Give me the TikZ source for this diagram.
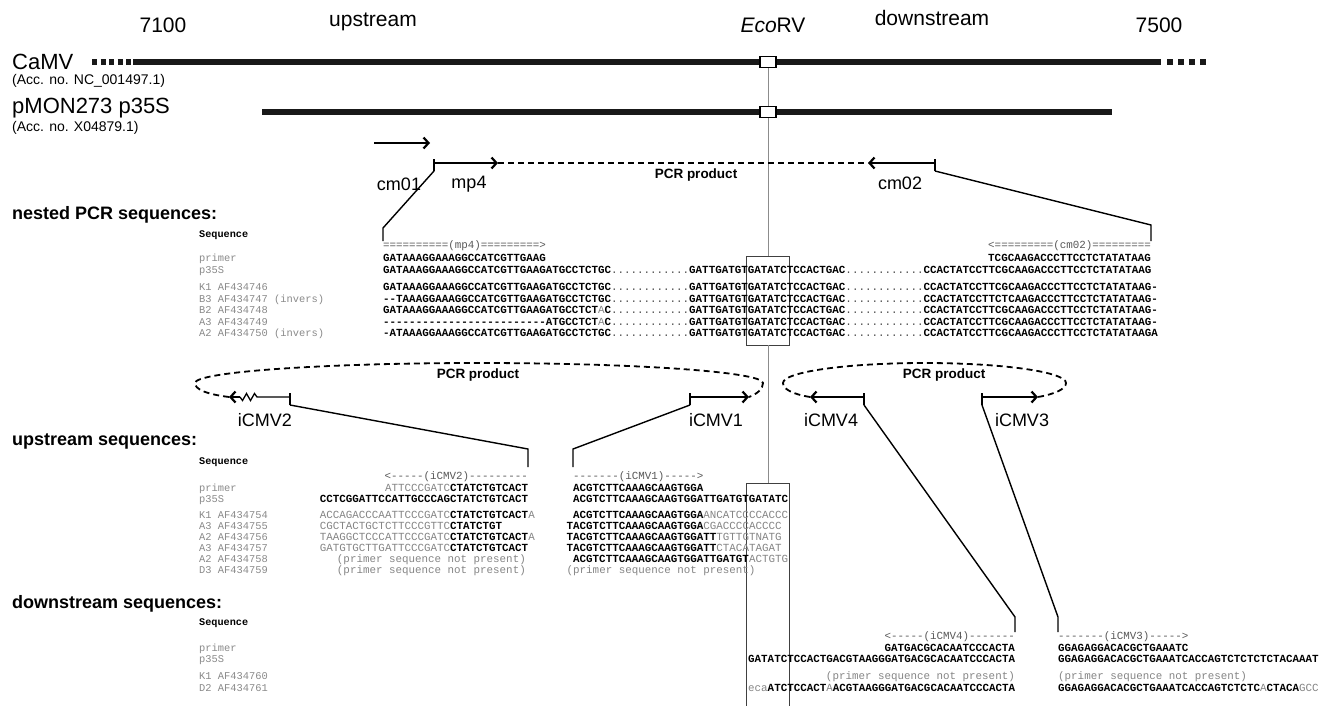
\documentclass[tikz,border=0pt]{standalone}
\usepackage{fontspec}
\setmainfont{Liberation Sans}
\setmonofont{Liberation Mono}
\usetikzlibrary{arrows.meta}
\definecolor{sqgrey}{HTML}{858585}
\definecolor{labgrey}{HTML}{8A8A8A}
\definecolor{vgrey}{HTML}{8C8C8C}
\newcommand\sqg[1]{{\color{sqgrey}\mdseries #1}}
\newcommand\sqd[1]{{\color{black!70}\mdseries #1}}
\begin{document}
\begin{tikzpicture}[x=1pt,y=-1pt,
  dna/.style={line width=6pt, color=black!90},
  ecobox/.style={draw=black, fill=white, line width=1.1pt, minimum width=16pt, minimum height=11pt, inner sep=0pt},
  vline/.style={draw=vgrey, line width=1pt},
  seqbox/.style={draw=black!75, line width=0.8pt, minimum width=43pt, inner sep=0pt},
  shaft/.style={line width=1.3pt},
  arr/.style={line width=1.3pt, -{Straight Barb[length=5pt,width=11pt,line width=2.2pt]}},
  tickln/.style={line width=1.3pt},
  conn/.style={line width=1.4pt},
  pcrdash/.style={line width=1.8pt, dash pattern=on 6pt off 4pt},
  toplab/.style={font=\fontsize{21}{25}\selectfont, inner sep=0pt},
  namelab/.style={font=\fontsize{22}{26}\selectfont, inner sep=0pt, anchor=west},
  acclab/.style={font=\fontsize{14}{16}\selectfont, inner sep=0pt, anchor=west},
  primlab/.style={font=\fontsize{18}{21}\selectfont, inner sep=0pt},
  pcrlab/.style={font=\fontsize{13.5}{16}\selectfont\bfseries, inner sep=0pt},
  seclab/.style={font=\fontsize{18}{21}\selectfont\bfseries, inner sep=0pt, anchor=west},
  rowlab/.style={font=\fontsize{10.4}{12}\selectfont\ttfamily, text=labgrey, inner sep=0pt, anchor=mid west},
  seqhead/.style={font=\fontsize{10.2}{12}\selectfont\ttfamily\bfseries, inner sep=0pt, anchor=mid west},
  sq/.style={font=\fontsize{10.85}{13}\selectfont\ttfamily\bfseries, inner sep=0pt},
  hdr/.style={font=\fontsize{10.85}{13}\selectfont\ttfamily, text=black!65, inner sep=0pt}
]
\fill[white] (0,0) rectangle (1332,705);
\useasboundingbox (0,0) rectangle (1332,705);

% ---------- top map ----------
\node[toplab] (n7100) at (163,25) {7100};
\node[toplab] (nup) at (373,22) {upstream};
\node[toplab] (neco) at (773,25) {\textit{Eco}RV};
\node[toplab] (ndown) at (932,18) {downstream};
\node[toplab] (n7500) at (1159,25) {7500};

\node[namelab] (camv) at (12,62) {CaMV};
\node[acclab] (camvacc) at (12,81) {(Acc. no. NC\_001497.1)};
\node[namelab] (pmon) at (12,108) {pMON273 p35S};
\node[acclab] (pmonacc) at (12,128) {(Acc. no. X04879.1)};

\draw[dna, dash pattern=on 5pt off 3.5pt] (92,62) -- (131,62);
\draw[dna] (133,62) -- (1161,62);
\draw[dna, dash pattern=on 6pt off 5pt] (1167,62) -- (1206,62);
\draw[dna] (262,112) -- (1112,112);

\node[ecobox] (sq1) at (768,62) {};
\node[ecobox] (sq2) at (768,112) {};

% boxes around EcoRV site
\node[seqbox, minimum height=89pt] (nbox) at (768,300.5) {};
\draw[black!75, line width=0.8pt] (746.5,712) -- (746.5,483) -- (789.5,483) -- (789.5,712);
\coordinate (ubox) at (768,483);
\draw[vline] (sq1) -- (sq2);
\draw[vline] (sq2) -- (nbox);
\draw[vline] (nbox) -- (ubox);

% ---------- outer / nested primers ----------
\coordinate (cm01s) at (374,143);
\coordinate (cm01e) at (430,143);
\draw[arr] (cm01s) -- (cm01e);
\coordinate (mp4t) at (434,163);
\coordinate (mp4e) at (498,163);
\coordinate (cm02t) at (935,163);
\coordinate (cm02e) at (868,163);
\draw[arr] (mp4t) -- (mp4e);
\draw[arr] (cm02t) -- (cm02e);
\draw[pcrdash] (mp4e) -- (cm02e);
\coordinate (mp4a) at (434,159);
\coordinate (mp4b) at (434,171);
\coordinate (cm02a) at (935,159);
\coordinate (cm02b) at (935,171);
\draw[tickln] (mp4a) -- (mp4b);
\draw[tickln] (cm02a) -- (cm02b);
\coordinate (mp4k) at (383,228);
\coordinate (mp4c) at (383,241);
\coordinate (cm02k) at (1151,225);
\coordinate (cm02c) at (1151,241);
\draw[conn] (mp4b) -- (mp4k) -- (mp4c);
\draw[conn] (cm02b) -- (cm02k) -- (cm02c);

\node[primlab] (lcm01) at (399,184) {cm01};
\node[primlab] (lmp4) at (469,184) {mp4};
\node[pcrlab] (lpcr1) at (696,175) {PCR product};
\node[primlab] (lcm02) at (900,183) {cm02};

% ---------- nested PCR block ----------
\node[seclab] (secn) at (12,215) {nested PCR sequences:};
\node[seqhead] (sqh1) at (199,235) {Sequence};
\node[hdr, anchor=mid west] (hmp4) at (383,246) {==========(mp4)=========>};
\node[hdr, anchor=mid east] (hcm02) at (1151.2,246) {<=========(cm02)=========};

\node[rowlab] (l1a) at (199,259) {primer};
\node[rowlab] (l1b) at (199,271) {p35S};
\node[rowlab] (l1c) at (199,288) {K1 AF434746};
\node[rowlab] (l1d) at (199,299.5) {B3 AF434747 (invers)};
\node[rowlab] (l1e) at (199,311) {B2 AF434748};
\node[rowlab] (l1f) at (199,322.5) {A3 AF434749};
\node[rowlab] (l1g) at (199,334) {A2 AF434750 (invers)};

\node[sq, anchor=mid west] (s1a) at (383,259) {GATAAAGGAAAGGCCATCGTTGAAG};
\node[sq, anchor=mid east] (s1a2) at (1151.2,259) {TCGCAAGACCCTTCCTCTATATAAG};
\node[sq, anchor=mid west] (s1b) at (383,271) {GATAAAGGAAAGGCCATCGTTGAAGATGCCTCTGC\sqd{............}GATTGATGTGATATCTCCACTGAC\sqd{............}CCACTATCCTTCGCAAGACCCTTCCTCTATATAAG};
\node[sq, anchor=mid west] (s1c) at (383,288) {GATAAAGGAAAGGCCATCGTTGAAGATGCCTCTGC\sqd{............}GATTGATGTGATATCTCCACTGAC\sqd{............}CCACTATCCTTCGCAAGACCCTTCCTCTATATAAG-};
\node[sq, anchor=mid west] (s1d) at (383,299.5) {--TAAAGGAAAGGCCATCGTTGAAGATGCCTCTGC\sqd{............}GATTGATGTGATATCTCCACTGAC\sqd{............}CCACTATCCTTCTCAAGACCCTTCCTCTATATAAG-};
\node[sq, anchor=mid west] (s1e) at (383,311) {GATAAAGGAAAGGCCATCGTTGAAGATGCCTCT\sqg{A}C\sqd{............}GATTGATGTGATATCTCCACTGAC\sqd{............}CCACTATCCTTCGCAAGACCCTTCCTCTATATAAG-};
\node[sq, anchor=mid west] (s1f) at (383,322.5) {-------------------------ATGCCTCT\sqg{A}C\sqd{............}GATTGATGTGATATCTCCACTGAC\sqd{............}CCACTATCCTTCGCAAGACCCTTCCTCTATATAAG-};
\node[sq, anchor=mid west] (s1g) at (383,334) {-ATAAAGGAAAGGCCATCGTTGAAGATGCCTCTGC\sqd{............}GATTGATGTGATATCTCCACTGAC\sqd{............}CCACTATCCTTCGCAAGACCCTTCCTCTATATAAGA};

% ---------- inner PCR products ----------
\draw[pcrdash] (229,397) .. controls (205,394) and (195,389) .. (195,383)
  .. controls (195,372) and (322,363) .. (479,363)
  .. controls (636,363) and (763,372) .. (763,383)
  .. controls (763,389) and (757,394) .. (749,397);
\draw[pcrdash] (810,397) .. controls (792,394) and (783,389) .. (783,383)
  .. controls (783,372) and (846,363) .. (924.5,363)
  .. controls (1003,363) and (1066,372) .. (1066,383)
  .. controls (1066,389) and (1055,394) .. (1038,397);
\node[pcrlab] (lpcr2) at (478,375) {PCR product};
\node[pcrlab] (lpcr3) at (944,375) {PCR product};

% iCMV2 (with zigzag)
\coordinate (i2t) at (290,397);
\coordinate (i2z) at (240,397);
\coordinate (i2e) at (229,397);
\draw[shaft] (i2t) -- (257,397) -- (254.5,393.5) -- (250.5,400.5) -- (246.5,393.5) -- (242.5,400.5) -- (i2z);
\draw[arr] (i2z) -- (i2e);
% iCMV1
\coordinate (i1t) at (690,397);
\coordinate (i1e) at (749,397);
\draw[arr] (i1t) -- (i1e);
% iCMV4
\coordinate (i4t) at (864,397);
\coordinate (i4e) at (810,397);
\draw[arr] (i4t) -- (i4e);
% iCMV3
\coordinate (i3t) at (982,397);
\coordinate (i3e) at (1038,397);
\draw[arr] (i3t) -- (i3e);

\foreach \n/\x in {i2/290, i1/690, i4/864, i3/982}{
  \coordinate (\n a) at (\x,393);
  \coordinate (\n b) at (\x,405);
  \draw[tickln] (\n a) -- (\n b);
}
\node[primlab] (li2) at (265,420) {iCMV2};
\node[primlab] (li1) at (716,420) {iCMV1};
\node[primlab] (li4) at (831,420) {iCMV4};
\node[primlab] (li3) at (1022,420) {iCMV3};

\coordinate (i2k) at (528,449);  \coordinate (i2c) at (528,467);
\coordinate (i1k) at (573,449);  \coordinate (i1c) at (573,467);
\coordinate (i4k) at (1015,617); \coordinate (i4c) at (1015,632);
\coordinate (i3k) at (1058,617); \coordinate (i3c) at (1058,632);
\draw[conn] (i2b) -- (i2k) -- (i2c);
\draw[conn] (i1b) -- (i1k) -- (i1c);
\draw[conn] (i4b) -- (i4k) -- (i4c);
\draw[conn] (i3b) -- (i3k) -- (i3c);

% ---------- upstream block ----------
\node[seclab] (secu) at (12,441) {upstream sequences:};
\node[seqhead] (sqh2) at (199,462) {Sequence};
\node[hdr, anchor=mid east] (hi2) at (528,477) {<-----(iCMV2)---------};
\node[hdr, anchor=mid west] (hi1) at (573,477) {-------(iCMV1)----->};

\node[rowlab] (l2a) at (199,489) {primer};
\node[rowlab] (l2b) at (199,499.5) {p35S};
\node[rowlab] (l2c) at (199,516) {K1 AF434754};
\node[rowlab] (l2d) at (199,527) {A3 AF434755};
\node[rowlab] (l2e) at (199,538) {A2 AF434756};
\node[rowlab] (l2f) at (199,549) {A3 AF434757};
\node[rowlab] (l2g) at (199,560) {A2 AF434758};
\node[rowlab] (l2h) at (199,571) {D3 AF434759};

\node[sq, anchor=mid west] (u2a) at (384.8,489) {\sqg{ATTCCCGATC}CTATCTGTCACT};
\node[sq, anchor=mid west] (u2b) at (319.7,499.5) {CCTCGGATTCCATTGCCCAGCTATCTGTCACT};
\node[sq, anchor=mid west] (u2c) at (319.7,516) {\sqg{ACCAGACCCAATTCCCGATC}CTATCTGTCACT\sqg{A}};
\node[sq, anchor=mid west] (u2d) at (319.7,527) {\sqg{CGCTACTGCTCTTCCCGTTC}CTATCTGT};
\node[sq, anchor=mid west] (u2e) at (319.7,538) {\sqg{TAAGGCTCCCATTCCCGATC}CTATCTGTCACT\sqg{A}};
\node[sq, anchor=mid west] (u2f) at (319.7,549) {\sqg{GATGTGCTTGATTCCCGATC}CTATCTGTCACT};
\node[sq, anchor=mid east] (u2g) at (526,560) {\sqg{(primer sequence not present)}};
\node[sq, anchor=mid east] (u2h) at (526,571) {\sqg{(primer sequence not present)}};

\node[sq, anchor=mid west] (u1a) at (573,489) {ACGTCTTCAAAGCAAGTGGA};
\node[sq, anchor=mid west] (u1b) at (573,499.5) {ACGTCTTCAAAGCAAGTGGATTGATGTGATATC};
\node[sq, anchor=mid west] (u1c) at (573,516) {ACGTCTTCAAAGCAAGTGGA\sqg{ANCATCCCCACCC}};
\node[sq, anchor=mid west] (u1d) at (566.5,527) {TACGTCTTCAAAGCAAGTGGA\sqg{CGACCCCACCCC}};
\node[sq, anchor=mid west] (u1e) at (566.5,538) {TACGTCTTCAAAGCAAGTGGATT\sqg{TGTTGTNATG}};
\node[sq, anchor=mid west] (u1f) at (566.5,549) {TACGTCTTCAAAGCAAGTGGATT\sqg{CTACATAGAT}};
\node[sq, anchor=mid west] (u1g) at (573,560) {ACGTCTTCAAAGCAAGTGGATTGATGT\sqg{ACTGTG}};
\node[sq, anchor=mid west] (u1h) at (566.5,571) {\sqg{(primer sequence not present)}};

% ---------- downstream block ----------
\node[seclab] (secd) at (12,604) {downstream sequences:};
\node[seqhead] (sqh3) at (199,623) {Sequence};
\node[hdr, anchor=mid east] (hi4) at (1015,637) {<-----(iCMV4)-------};
\node[hdr, anchor=mid west] (hi3) at (1058,637) {-------(iCMV3)----->};

\node[rowlab] (l3a) at (199,649) {primer};
\node[rowlab] (l3b) at (199,660) {p35S};
\node[rowlab] (l3c) at (199,677) {K1 AF434760};
\node[rowlab] (l3d) at (199,689) {D2 AF434761};

\node[sq, anchor=mid east] (d4a) at (1015,649) {GATGACGCACAATCCCACTA};
\node[sq, anchor=mid west] (d4b) at (748,660) {GATATCTCCACTGACGTAAGGGATGACGCACAATCCCACTA};
\node[sq, anchor=mid east] (d4c) at (1015,677) {\sqg{(primer sequence not present)}};
\node[sq, anchor=mid west] (d4d) at (748,689) {\sqg{eca}ATCTCCACT\sqg{A}ACGTAAGGGATGACGCACAATCCCACTA};

\node[sq, anchor=mid west] (d3a) at (1058,649) {GGAGAGGACACGCTGAAATC};
\node[sq, anchor=mid west] (d3b) at (1058,660) {GGAGAGGACACGCTGAAATCACCAGTCTCTCTCTACAAAT};
\node[sq, anchor=mid west] (d3c) at (1058,677) {\sqg{(primer sequence not present)}};
\node[sq, anchor=mid west] (d3d) at (1058,689) {GGAGAGGACACGCTGAAATCACCAGTCTCTC\sqg{A}CTACA\sqg{GCC}};
\end{tikzpicture}
\end{document}
